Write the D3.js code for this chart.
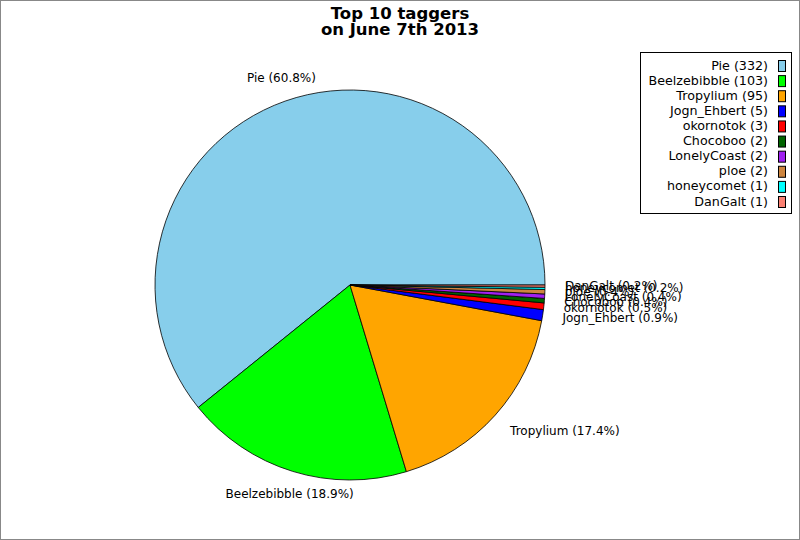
<!DOCTYPE html>
<html><head><meta charset="utf-8">
<script src="https://cdn.jsdelivr.net/npm/d3@7/dist/d3.min.js"></script>
<style>body{margin:0;background:#fff}svg{display:block}</style>
</head><body>
<svg id="c" width="800" height="540"></svg>
<script>
const names = ["Pie","Beelzebibble","Tropylium","Jogn_Ehbert","okornotok","Chocoboo","LonelyCoast","ploe","honeycomet","DanGalt"];
const counts = [332,103,95,5,3,2,2,2,1,1];
const colors = ["#87CEEB","#00FF00","#FFA500","#0000FF","#FF0000","#006400","#A020F0","#CD853F","#00FFFF","#FA8072"];
const titleLines = ["Top 10 taggers","on June 7th 2013"];

const svg = d3.select("#c");
const font = "DejaVu Sans, sans-serif";
svg.append("rect").attr("x",0.5).attr("y",0.5).attr("width",799).attr("height",539)
  .attr("fill","#fff").attr("stroke","#888");

const cx = 350, cy = 285, r = 195, lrx = 215, lry = 219;
const total = d3.sum(counts);
const data = names.map((n,i)=>({name:n,value:counts[i],color:colors[i]}));
const pie = d3.pie().sort(null).value(d=>d.value).startAngle(Math.PI/2).endAngle(Math.PI/2 - 2*Math.PI);
const arcs = pie(data);
const arc = d3.arc().innerRadius(0).outerRadius(r);
const g = svg.append("g").attr("transform",`translate(${cx},${cy})`);
g.selectAll("path").data(arcs).join("path").attr("d",arc)
  .attr("fill",d=>d.data.color).attr("stroke","#000").attr("stroke-width",0.8);

g.selectAll("text.lab").data(arcs.slice().reverse()).join("text").attr("class","lab")
  .each(function(d){
    const a = (d.startAngle+d.endAngle)/2;
    const s = Math.sin(a);
    let x = s*lrx; const y = -Math.cos(a)*lry;
    const anchor = s > 0.5 ? "start" : (s < -0.5 ? "end" : "middle");
    if (anchor === "middle") x += 3;
    d3.select(this).attr("x",x).attr("y",y).attr("text-anchor",anchor)
      .attr("dominant-baseline","middle");
  })
  .attr("font-family",font).attr("font-size",12).attr("fill","#000")
  .text(d=>`${d.data.name} (${(d.data.value/total*100).toFixed(1)}%)`);

// title
svg.selectAll("text.title").data(titleLines).join("text").attr("class","title")
  .attr("x",400).attr("y",(d,i)=>18.5+i*16.5).attr("text-anchor","middle")
  .attr("font-family",font).attr("font-weight","bold").attr("font-size",16.5).text(d=>d);

// legend
const lg = svg.append("g");
lg.append("rect").attr("x",640.5).attr("y",52.5).attr("width",151).attr("height",161)
  .attr("fill","#fff").attr("stroke","#000");
const ys = d3.scalePoint().domain(names).range([66,202]);
lg.selectAll("rect.sw").data(data).join("rect").attr("class","sw")
  .attr("x",778.5).attr("y",d=>ys(d.name)-5.5).attr("width",7).attr("height",11)
  .attr("fill",d=>d.color).attr("stroke","#000");
lg.selectAll("text.lt").data(data).join("text").attr("class","lt")
  .attr("x",768).attr("y",d=>ys(d.name)).attr("text-anchor","end").attr("dominant-baseline","middle")
  .attr("font-family",font).attr("font-size",12.7).text(d=>`${d.name} (${d.value})`);
</script>
</body></html>
